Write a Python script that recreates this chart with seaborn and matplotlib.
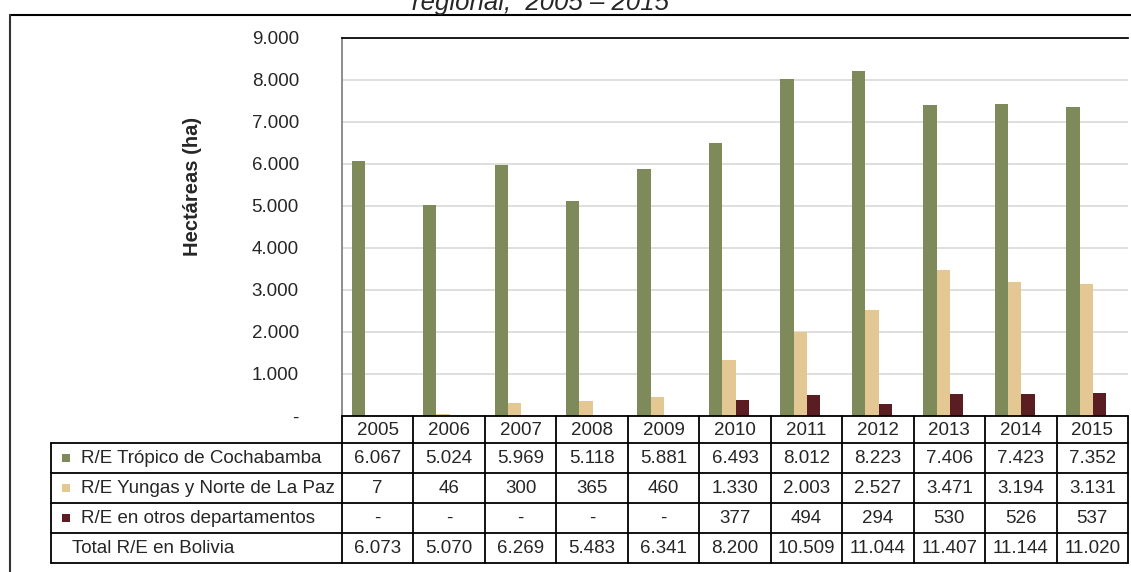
import matplotlib
matplotlib.use("Agg")
import matplotlib.pyplot as plt
import numpy as np
import pandas as pd
import seaborn as sns

years = ["2005", "2006", "2007", "2008", "2009", "2010",
         "2011", "2012", "2013", "2014", "2015"]
series_names = ["R/E Trópico de Cochabamba",
                "R/E Yungas y Norte de La Paz",
                "R/E en otros departamentos"]
tropico = [6067, 5024, 5969, 5118, 5881, 6493, 8012, 8223, 7406, 7423, 7352]
yungas = [7, 46, 300, 365, 460, 1330, 2003, 2527, 3471, 3194, 3131]
otros = [0, 0, 0, 0, 0, 377, 494, 294, 530, 526, 537]
total_label = "Total R/E en Bolivia"
totals = [6073, 5070, 6269, 5483, 6341, 8200, 10509, 11044, 11407, 11144, 11020]
colors = ["#7E8A5A", "#E3C893", "#5A1E22"]
title_tail = "regional,  2005 – 2015"
y_label = "Hectáreas (ha)"


def fmt(v):
    if v == 0:
        return "-"
    return f"{v:,.0f}".replace(",", ".")


df = pd.DataFrame({
    "year": years * 3,
    "serie": [s for s in series_names for _ in years],
    "ha": tropico + yungas + otros,
})

sns.set_theme(style="white")
plt.rcParams["font.family"] = ["Liberation Sans", "DejaVu Sans"]

W, H = 1131, 572
fig = plt.figure(figsize=(W / 100, H / 100), dpi=100)

# plot area in pixel coords
px_l, px_r, px_t, px_b = 342, 1128, 38, 416
ax = fig.add_axes([px_l / W, 1 - px_b / H, (px_r - px_l) / W, (px_b - px_t) / H])
sns.barplot(data=df, x="year", y="ha", hue="serie", palette=colors,
            width=0.56, gap=0, saturation=1, linewidth=0, ax=ax, legend=False)
ax.set_ylim(0, 9000)
# bars sit slightly left of the table columns, as in the original
ax.set_xlim(-0.5 + 0.085, len(years) - 0.5 + 0.085)
ax.set_yticks(np.arange(0, 9001, 1000))
ax.set_yticklabels([fmt(v) for v in np.arange(0, 9001, 1000)], fontsize=13.5)
ax.tick_params(axis="y", length=0, pad=31)
ax.set_xticks([])
ax.set_xlabel("")
ax.set_ylabel(y_label, fontsize=14.5, fontweight="bold")
ax.yaxis.set_label_coords(-0.178, 0.606)
ax.grid(axis="y", color="#D9D9D9", linewidth=1.2)
ax.set_axisbelow(True)
ax.spines["left"].set_color("#808080")
ax.spines["top"].set_color("black")
ax.spines["right"].set_visible(False)
ax.spines["bottom"].set_visible(False)

# overlay in pixel coordinates for frame, title and data table
ov = fig.add_axes([0, 0, 1, 1], zorder=5)
ov.set_xlim(0, W)
ov.set_ylim(H, 0)
ov.axis("off")
ov.patch.set_alpha(0)

ov.text(540, 3, title_tail, ha="center", va="center", fontsize=18.5,
        style="italic")
ov.plot([10, W], [15, 15], color="black", lw=1.5)
ov.plot([10, 10], [15, H], color="#333333", lw=1.5)

# table geometry
col_w = (px_r - px_l) / len(years)
row_y = [416, 443, 472.5, 502.5, 532.5, 562.5]
tab_l = 51
lw = 1.3
ov.plot([px_l, px_r], [row_y[0], row_y[0]], color="black", lw=lw)
for y in row_y[1:]:
    ov.plot([tab_l, px_r], [y, y], color="black", lw=lw)
ov.plot([tab_l, tab_l], [row_y[1], row_y[-1]], color="black", lw=lw)
for i in range(len(years) + 1):
    x = px_l + i * col_w
    ov.plot([x, x], [row_y[0], row_y[-1]], color="black", lw=lw)

fs = 13.5
for i, yr in enumerate(years):
    cx = px_l + (i + 0.5) * col_w
    ov.text(cx, (row_y[0] + row_y[1]) / 2 + 1, yr, ha="center", va="center", fontsize=fs)

rows = [tropico, yungas, otros]
for r, (name, vals, c) in enumerate(zip(series_names, rows, colors)):
    cy = (row_y[r + 1] + row_y[r + 2]) / 2 + 1
    ov.add_patch(plt.Rectangle((62, cy - 4.5), 7.5, 8, color=c, lw=0))
    ov.text(81, cy, name, ha="left", va="center", fontsize=fs)
    for i, v in enumerate(vals):
        cx = px_l + (i + 0.5) * col_w
        ov.text(cx, cy, fmt(v), ha="center", va="center", fontsize=fs)

cy = (row_y[4] + row_y[5]) / 2 + 1
ov.text(72, cy, total_label, ha="left", va="center", fontsize=fs)
for i, v in enumerate(totals):
    cx = px_l + (i + 0.5) * col_w
    ov.text(cx, cy, fmt(v), ha="center", va="center", fontsize=fs)

fig.savefig("out.png", dpi=100)
